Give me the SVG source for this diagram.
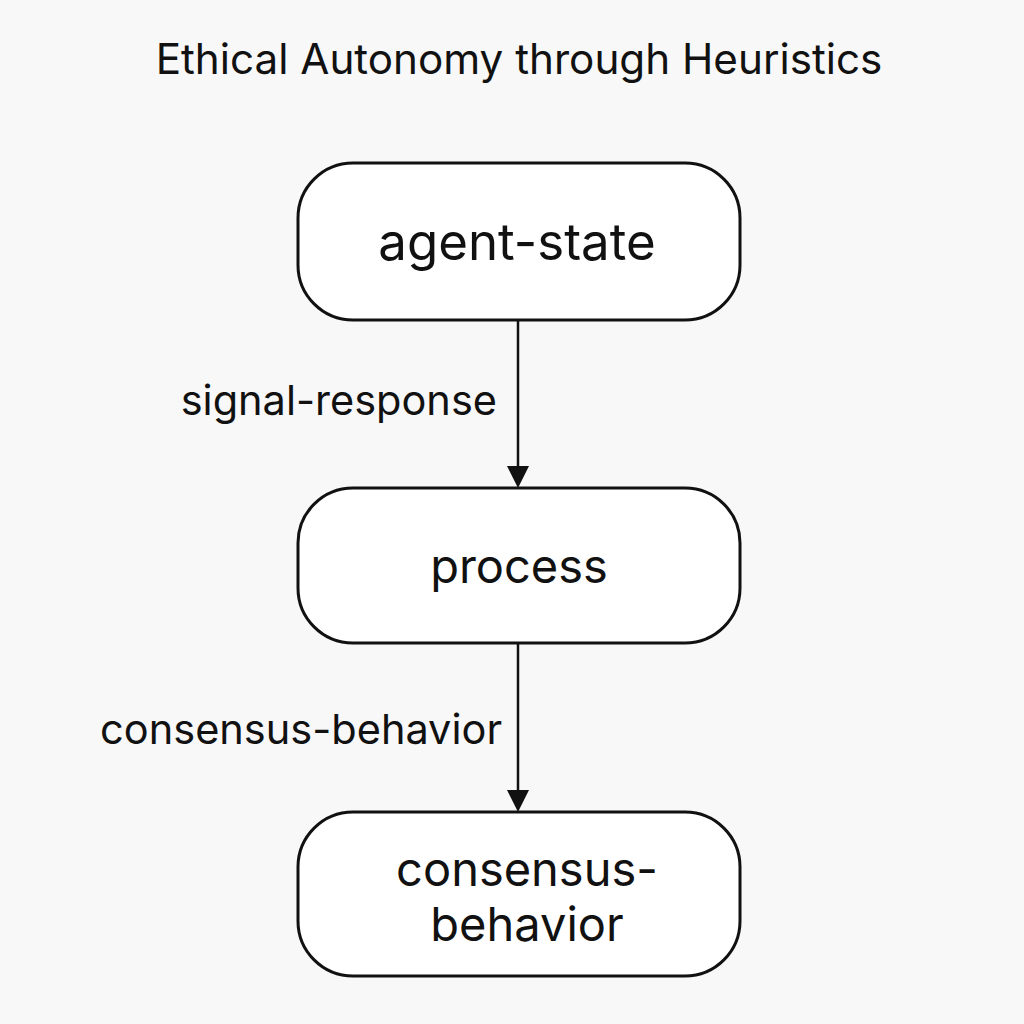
<svg xmlns="http://www.w3.org/2000/svg" width="1024" height="1024" viewBox="0 0 1024 1024">
<defs>
<style>
.node{fill:#ffffff;stroke:#111111;stroke-width:3}
.ntext{font-family:Inter,"Liberation Sans",sans-serif;font-size:47px;fill:#111111;text-anchor:middle}
.elabel{font-family:Inter,"Liberation Sans",sans-serif;font-size:41.5px;fill:#111111;text-anchor:end}
.edge{stroke:#111111;stroke-width:2.5;fill:none}
.head{fill:#111111}
</style>
</defs>
<rect width="1024" height="1024" fill="#f8f8f8"/>
<text x="519" y="74" font-family="Inter,'Liberation Sans',sans-serif" font-size="42.2" fill="#111111" text-anchor="middle">Ethical Autonomy through Heuristics</text>
<g id="connectors">
<line class="edge" x1="518" y1="320" x2="518" y2="468"/>
<path class="head" d="M507,466 L529,466 L518,488 Z"/>
<line class="edge" x1="518" y1="643" x2="518" y2="792"/>
<path class="head" d="M507,790 L529,790 L518,812 Z"/>
<text class="elabel" x="497" y="415">signal-response</text>
<text class="elabel" x="502" y="744">consensus-behavior</text>
</g>
<g id="agent-state">
<rect class="node" x="298" y="163" width="442" height="157" rx="55"/>
<text class="ntext" x="517" y="260" style="font-size:51px">agent-state</text>
</g>
<g id="process">
<rect class="node" x="298" y="488" width="442" height="155" rx="55"/>
<text class="ntext" x="519" y="583">process</text>
</g>
<g id="consensus-behavior">
<rect class="node" x="298" y="812" width="442" height="164" rx="55"/>
<text class="ntext" x="527" y="886">consensus-</text>
<text class="ntext" x="527" y="941">behavior</text>
</g>
</svg>
